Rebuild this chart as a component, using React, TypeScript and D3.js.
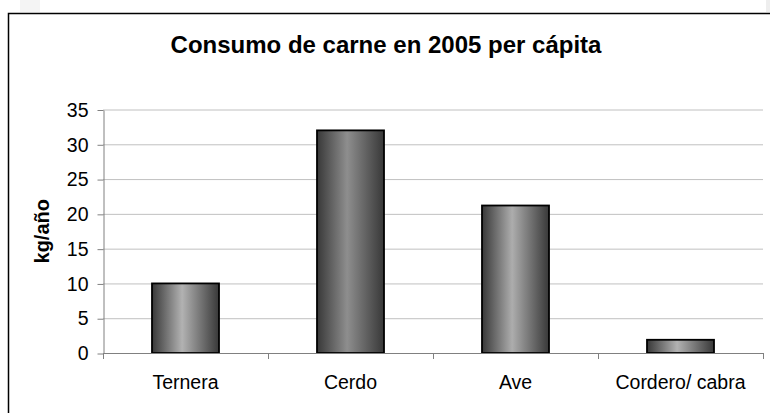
import { useRef, useEffect } from "react"
import * as d3 from "d3"

const categories = ["Ternera", "Cerdo", "Ave", "Cordero/ cabra"]
const consumo = [10, 32, 21.2, 1.9]
const yTicks = [0, 5, 10, 15, 20, 25, 30, 35]
const title = "Consumo de carne en 2005 per cápita"
const yLabel = "kg/año"

// lighter centre tone of each bar's cylinder gradient
const centerTones = ["#b2b2b2", "#8e8e8e", "#adadad", "#b2b2b2"]

const W = 770
const H = 413
const font = "Arial, 'Liberation Sans', sans-serif"

export default function App() {
  const svgRef = useRef<SVGSVGElement>(null)

  useEffect(() => {
    if (!svgRef.current) return
    const svg = d3.select(svgRef.current)
    svg.selectAll("*").remove()

    const left = 103
    const right = 763
    const top = 109.5
    const bottom = 353

    const x = d3.scaleBand<string>().domain(categories).range([left, right]).paddingInner(0.594).paddingOuter(0.297)
    const y = d3.scaleLinear().domain([0, 35]).range([bottom, top])

    // faint page marks above the frame
    svg.append("rect").attr("x", 20).attr("y", 0).attr("width", 20).attr("height", 12).attr("fill", "#f4f4f4")
    svg.append("rect").attr("x", 766).attr("y", 0).attr("width", 4).attr("height", 12).attr("fill", "#eeeeee")

    // chart frame
    svg
      .append("rect")
      .attr("x", 8.5)
      .attr("y", 13.5)
      .attr("width", W)
      .attr("height", H)
      .attr("fill", "#fff")
      .attr("stroke", "#000")
      .attr("stroke-width", 1.5)

    svg
      .append("text")
      .attr("x", 386)
      .attr("y", 53)
      .attr("text-anchor", "middle")
      .attr("font-family", font)
      .attr("font-weight", "bold")
      .attr("font-size", 24)
      .text(title)

    // gridlines
    svg
      .append("g")
      .selectAll("line")
      .data(yTicks.filter((d) => d > 0))
      .join("line")
      .attr("x1", left)
      .attr("x2", right)
      .attr("y1", (d) => y(d) + 0.5)
      .attr("y2", (d) => y(d) + 0.5)
      .attr("stroke", "#c0c0c0")
      .attr("stroke-width", 1)

    // gradients
    const defs = svg.append("defs")
    centerTones.forEach((c, i) => {
      const g = defs.append("linearGradient").attr("id", `bar-grad-${i}`).attr("x1", "0%").attr("x2", "100%").attr("y1", "0%").attr("y2", "0%")
      g.append("stop").attr("offset", "0%").attr("stop-color", "#383838")
      g.append("stop").attr("offset", "45%").attr("stop-color", c)
      g.append("stop").attr("offset", "100%").attr("stop-color", "#383838")
    })

    // bars
    svg
      .append("g")
      .selectAll("rect")
      .data(consumo)
      .join("rect")
      .attr("x", (d, i) => x(categories[i])!)
      .attr("y", (d) => y(d))
      .attr("width", x.bandwidth())
      .attr("height", (d) => bottom - y(d))
      .attr("fill", (d, i) => `url(#bar-grad-${i})`)
      .attr("stroke", "#000")
      .attr("stroke-width", 1.8)

    // y axis
    const yAxis = svg
      .append("g")
      .attr("transform", `translate(${left + 0.5},0.5)`)
      .call(d3.axisLeft(y).tickValues(yTicks).tickSize(6).tickPadding(9).tickSizeOuter(0))
    yAxis.select(".domain").attr("stroke", "#808080")
    yAxis.selectAll(".tick line").attr("stroke", "#808080")
    yAxis.selectAll("text").attr("font-family", font).attr("font-size", 19.5).attr("fill", "#000")

    // x axis line + boundary ticks
    const xg = svg.append("g")
    xg.append("line")
      .attr("x1", left)
      .attr("x2", right)
      .attr("y1", bottom + 0.5)
      .attr("y2", bottom + 0.5)
      .attr("stroke", "#808080")
    const bounds = categories.map((c) => x(c)! - (x.step() - x.bandwidth()) / 2).concat([right])
    xg.selectAll("line.tk")
      .data(bounds)
      .join("line")
      .attr("class", "tk")
      .attr("x1", (d) => Math.round(d) + 0.5)
      .attr("x2", (d) => Math.round(d) + 0.5)
      .attr("y1", bottom)
      .attr("y2", bottom + 6)
      .attr("stroke", "#808080")

    xg.selectAll("text")
      .data(categories)
      .join("text")
      .attr("x", (d) => x(d)! + x.bandwidth() / 2)
      .attr("y", 389)
      .attr("text-anchor", "middle")
      .attr("font-family", font)
      .attr("font-size", 19.5)
      .text((d) => d)

    svg
      .append("text")
      .attr("transform", `translate(49,${(top + bottom) / 2}) rotate(-90)`)
      .attr("text-anchor", "middle")
      .attr("font-family", font)
      .attr("font-weight", "bold")
      .attr("font-size", 20)
      .text(yLabel)
  }, [])

  return (
    <svg
      ref={svgRef}
      width={W}
      height={H}
      viewBox={`0 0 ${W} ${H}`}
      style={{ position: "absolute", left: 0, top: 0, background: "#fff" }}
    />
  )
}
